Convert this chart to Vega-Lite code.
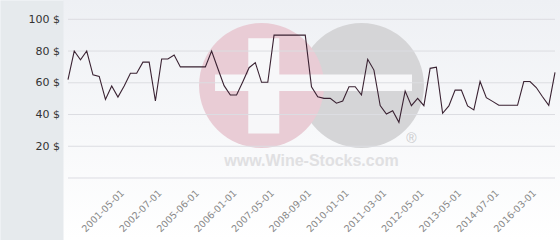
{
  "$schema": "https://vega.github.io/schema/vega-lite/v6.json",
  "width": 497,
  "height": 240,
  "autosize": {"type": "none"},
  "padding": {"left": 63, "top": 0, "right": 0, "bottom": 0},
  "background": "#f7f8fa",
  "config": {
    "font": "DejaVu Sans",
    "view": {
      "stroke": null,
      "fill": {"gradient": "linear", "x1": 0, "y1": 0, "x2": 0, "y2": 1,
        "stops": [{"offset": 0, "color": "#eef0f4"}, {"offset": 1, "color": "#ffffff"}]}
    }
  },
  "resolve": {"axis": {"y": "independent"}},
  "datasets": {
    "prices": [
      {"date": "1999-03-01", "value": 62}, {"date": "1999-06-01", "value": 80}, {"date": "1999-09-01", "value": 74.5},
      {"date": "1999-12-01", "value": 80}, {"date": "2000-03-01", "value": 65}, {"date": "2000-06-01", "value": 64},
      {"date": "2000-09-01", "value": 49.5}, {"date": "2000-12-01", "value": 58}, {"date": "2001-03-01", "value": 51},
      {"date": "2001-05-01", "value": 58}, {"date": "2001-07-01", "value": 66}, {"date": "2001-09-01", "value": 66},
      {"date": "2001-11-01", "value": 73}, {"date": "2002-02-01", "value": 73}, {"date": "2002-05-01", "value": 48.5},
      {"date": "2002-07-01", "value": 75}, {"date": "2002-12-01", "value": 75}, {"date": "2003-05-01", "value": 77.5},
      {"date": "2003-11-01", "value": 70}, {"date": "2004-05-01", "value": 70}, {"date": "2004-11-01", "value": 70},
      {"date": "2005-06-01", "value": 70}, {"date": "2005-07-01", "value": 70}, {"date": "2005-08-01", "value": 80},
      {"date": "2005-09-01", "value": 69}, {"date": "2005-10-01", "value": 58.2}, {"date": "2005-11-01", "value": 52.3},
      {"date": "2006-01-01", "value": 52.3}, {"date": "2006-04-01", "value": 60.7}, {"date": "2006-07-01", "value": 69.5},
      {"date": "2006-10-01", "value": 72.7}, {"date": "2007-01-01", "value": 60.3}, {"date": "2007-03-01", "value": 60.3},
      {"date": "2007-05-01", "value": 90}, {"date": "2007-08-01", "value": 90}, {"date": "2007-11-01", "value": 90},
      {"date": "2008-02-01", "value": 90}, {"date": "2008-05-01", "value": 90}, {"date": "2008-07-01", "value": 90},
      {"date": "2008-09-01", "value": 57.5}, {"date": "2008-11-01", "value": 51.2}, {"date": "2009-02-01", "value": 50.2},
      {"date": "2009-05-01", "value": 50.2}, {"date": "2009-08-01", "value": 47.1}, {"date": "2009-11-01", "value": 48.5},
      {"date": "2010-01-01", "value": 57.5}, {"date": "2010-03-01", "value": 57.5}, {"date": "2010-05-01", "value": 52.3},
      {"date": "2010-08-01", "value": 74.8}, {"date": "2010-10-01", "value": 68}, {"date": "2010-12-01", "value": 45.6},
      {"date": "2011-03-01", "value": 40.3}, {"date": "2011-05-01", "value": 42.4}, {"date": "2011-08-01", "value": 35.1},
      {"date": "2011-10-01", "value": 54.8}, {"date": "2011-12-01", "value": 45.6}, {"date": "2012-03-01", "value": 50.2},
      {"date": "2012-05-01", "value": 45.6}, {"date": "2012-07-01", "value": 69.1}, {"date": "2012-09-01", "value": 69.8},
      {"date": "2012-11-01", "value": 40.8}, {"date": "2013-01-01", "value": 45.4}, {"date": "2013-03-01", "value": 55.4},
      {"date": "2013-05-01", "value": 55.4}, {"date": "2013-07-01", "value": 45.4}, {"date": "2013-10-01", "value": 42.9},
      {"date": "2014-01-01", "value": 60.8}, {"date": "2014-03-01", "value": 50.6}, {"date": "2014-05-01", "value": 48.3},
      {"date": "2014-07-01", "value": 45.8}, {"date": "2014-10-01", "value": 45.8}, {"date": "2015-01-01", "value": 45.8},
      {"date": "2015-05-01", "value": 45.8}, {"date": "2015-09-01", "value": 60.8}, {"date": "2015-12-01", "value": 60.8},
      {"date": "2016-03-01", "value": 57}, {"date": "2016-06-01", "value": 51.2}, {"date": "2016-09-01", "value": 45.8},
      {"date": "2016-12-01", "value": 66.6}
    ],
    "grid": [{"value": 0}, {"value": 20}, {"value": 40}, {"value": 60}, {"value": 80}, {"value": 100}],
    "watermark": [
      {"part": "gray", "date": "2010-05-01", "value": 58.3},
      {"part": "pink", "date": "2007-01-01", "value": 58.3},
      {"part": "bars", "date": "2008-09-01", "value": 60},
      {"part": "site", "date": "2008-09-01", "value": 10.9, "label": "www.Wine-Stocks.com"},
      {"part": "reg", "date": "2011-12-01", "value": 24.6, "label": "®"}
    ]
  },
  "layer": [
    {
      "data": {"name": "prices"},
      "mark": {"type": "line", "color": "#3a2232", "strokeWidth": 1.1, "opacity": 0},
      "encoding": {
        "x": {
          "field": "date", "type": "ordinal",
          "scale": {"type": "point", "padding": 0.8},
          "axis": {
            "title": null,
            "values": ["2001-05-01", "2002-07-01", "2005-06-01", "2006-01-01", "2007-05-01", "2008-09-01", "2010-01-01", "2011-03-01", "2012-05-01", "2013-05-01", "2014-07-01", "2016-03-01"],
            "labelAngle": -45, "labelAlign": "right", "labelBaseline": "middle",
            "labelFontSize": 9.5, "labelColor": "#888888", "labelFont": "DejaVu Sans",
            "labelPadding": 13, "labelOffset": -2, "labelOverlap": false, "labelBound": false, "labelFlush": false,
            "domain": false, "ticks": false, "grid": false, "offset": -62
          }
        },
        "y": {
          "field": "value", "type": "quantitative",
          "scale": {"domain": [-39.07, 112.16], "nice": false, "zero": false},
          "axis": {
            "orient": "left",
            "title": null,
            "labels": false,
            "grid": false, "ticks": false, "tickSize": 0,
            "domain": true, "domainColor": "#e6eaed", "domainWidth": 63,
            "offset": 31.5
          }
        }
      }
    },
    {
      "data": {"name": "watermark"},
      "transform": [{"filter": "datum.part === 'gray'"}],
      "mark": {"type": "point", "shape": "circle", "filled": true, "size": 15625, "color": "#d5d5d7", "opacity": 1, "strokeWidth": 0},
      "encoding": {
        "x": {"field": "date", "type": "ordinal"},
        "y": {"field": "value", "type": "quantitative", "axis": null}
      }
    },
    {
      "data": {"name": "watermark"},
      "transform": [{"filter": "datum.part === 'pink'"}],
      "mark": {"type": "point", "shape": "circle", "filled": true, "size": 15625, "color": "#e9ccd5", "opacity": 1, "strokeWidth": 0},
      "encoding": {
        "x": {"field": "date", "type": "ordinal"},
        "y": {"field": "value", "type": "quantitative", "axis": null}
      }
    },
    {
      "data": {"name": "watermark"},
      "transform": [{"filter": "datum.part === 'bars'"}],
      "mark": {"type": "point", "shape": "M-0.955,-0.083H0.995V0.082H-0.955Z M-0.626,-0.44H-0.319V0.501H-0.626Z", "filled": true, "size": 40804, "color": "#f7f7f9", "opacity": 1, "strokeWidth": 0},
      "encoding": {
        "x": {"field": "date", "type": "ordinal"},
        "y": {"field": "value", "type": "quantitative", "axis": null}
      }
    },
    {
      "data": {"name": "watermark"},
      "transform": [{"filter": "datum.part === 'site'"}],
      "mark": {"type": "text", "font": "Liberation Sans", "fontWeight": "bold", "fontSize": 16, "color": "#e0e0e2", "align": "center", "baseline": "middle"},
      "encoding": {
        "x": {"field": "date", "type": "ordinal"},
        "y": {"field": "value", "type": "quantitative", "axis": null},
        "text": {"field": "label"}
      }
    },
    {
      "data": {"name": "watermark"},
      "transform": [{"filter": "datum.part === 'reg'"}],
      "mark": {"type": "text", "font": "Liberation Sans", "fontSize": 14, "color": "#cacacc", "align": "center", "baseline": "middle"},
      "encoding": {
        "x": {"field": "date", "type": "ordinal"},
        "y": {"field": "value", "type": "quantitative", "axis": null},
        "text": {"field": "label"}
      }
    },
    {
      "data": {"name": "grid"},
      "mark": {"type": "rule", "color": "#dcdde2", "strokeWidth": 1},
      "encoding": {
        "x": {"datum": "1999-03-01", "type": "ordinal"},
        "x2": {"datum": "2016-12-01"},
        "y": {"field": "value", "type": "quantitative", "axis": null}
      }
    },
    {
      "data": {"name": "prices"},
      "mark": {"type": "line", "color": "#3a2232", "strokeWidth": 1.1},
      "encoding": {
        "x": {"field": "date", "type": "ordinal"},
        "y": {
          "field": "value", "type": "quantitative",
          "axis": {
            "orient": "left",
            "title": null,
            "values": [20, 40, 60, 80, 100],
            "labelExpr": "datum.value + ' $'",
            "grid": false, "ticks": false, "tickSize": 0, "domain": false,
            "offset": 0, "labelPadding": 3.5,
            "labelFontSize": 11, "labelColor": "#333333", "labelFont": "DejaVu Sans",
            "labelAlign": "right", "labelBaseline": "middle"
          }
        }
      }
    }
  ]
}
